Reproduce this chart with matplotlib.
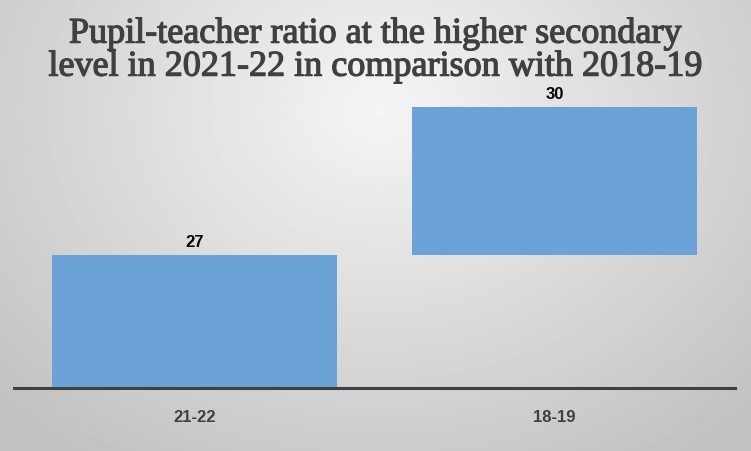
import matplotlib.pyplot as plt
import matplotlib.patheffects as pe
import numpy as np

# chart data
categories = ["21-22", "18-19"]
ratios = [27, 30]
title = "Pupil-teacher ratio at the higher secondary\nlevel in 2021-22 in comparison with 2018-19"

BAR_COLOR = "#6CA3D7"
TEXT_DARK = "#404040"
LABEL_FONT = ["Liberation Sans", "DejaVu Sans"]

fig = plt.figure(figsize=(7.51, 4.51), dpi=100)

# radial grey background
bg = fig.add_axes([0, 0, 1, 1], zorder=0)
yy, xx = np.mgrid[0:451, 0:751]
r = np.sqrt(((xx - 380) / 520.0) ** 2 + ((yy - 110) / 420.0) ** 2)
shade = np.clip(0.96 - 0.2 * r, 0.76, 0.96)
bg.imshow(shade, cmap="gray", vmin=0, vmax=1, aspect="auto", extent=[0, 1, 0, 1])
bg.axis("off")

ax = fig.add_axes([0.0186, 0.1397, 0.9601, 0.727], zorder=1)
ax.patch.set_alpha(0)

x = np.arange(len(categories))
# first bar from the axis floor, second floats from the first value up
bottoms = [0, ratios[0]]
heights = [ratios[0], ratios[1] - ratios[0]]
ax.bar(x, heights, bottom=bottoms, width=0.79, color=BAR_COLOR)

ax.set_xlim(-0.5, 1.5)
ax.set_ylim(24.3, 30.95)

for xi, v in zip(x, ratios):
    ax.text(xi, v + 0.1, str(v), ha="center", va="bottom", fontsize=12,
            fontweight="bold", color="black", family=LABEL_FONT)

ax.set_xticks(x)
ax.set_xticklabels(categories, fontsize=12, fontweight="bold", color=TEXT_DARK,
                   family=LABEL_FONT)
ax.tick_params(axis="x", length=0, pad=16)
ax.set_yticks([])
for side in ["top", "right", "left"]:
    ax.spines[side].set_visible(False)
ax.spines["bottom"].set_color(TEXT_DARK)
ax.spines["bottom"].set_linewidth(2.2)

fig.text(0.5, 0.962, title, ha="center", va="top", fontsize=26,
         color=TEXT_DARK, family="Liberation Serif", linespacing=1.0,
         path_effects=[pe.withStroke(linewidth=0.9, foreground=TEXT_DARK)])

fig.savefig("out.png", dpi=100)
